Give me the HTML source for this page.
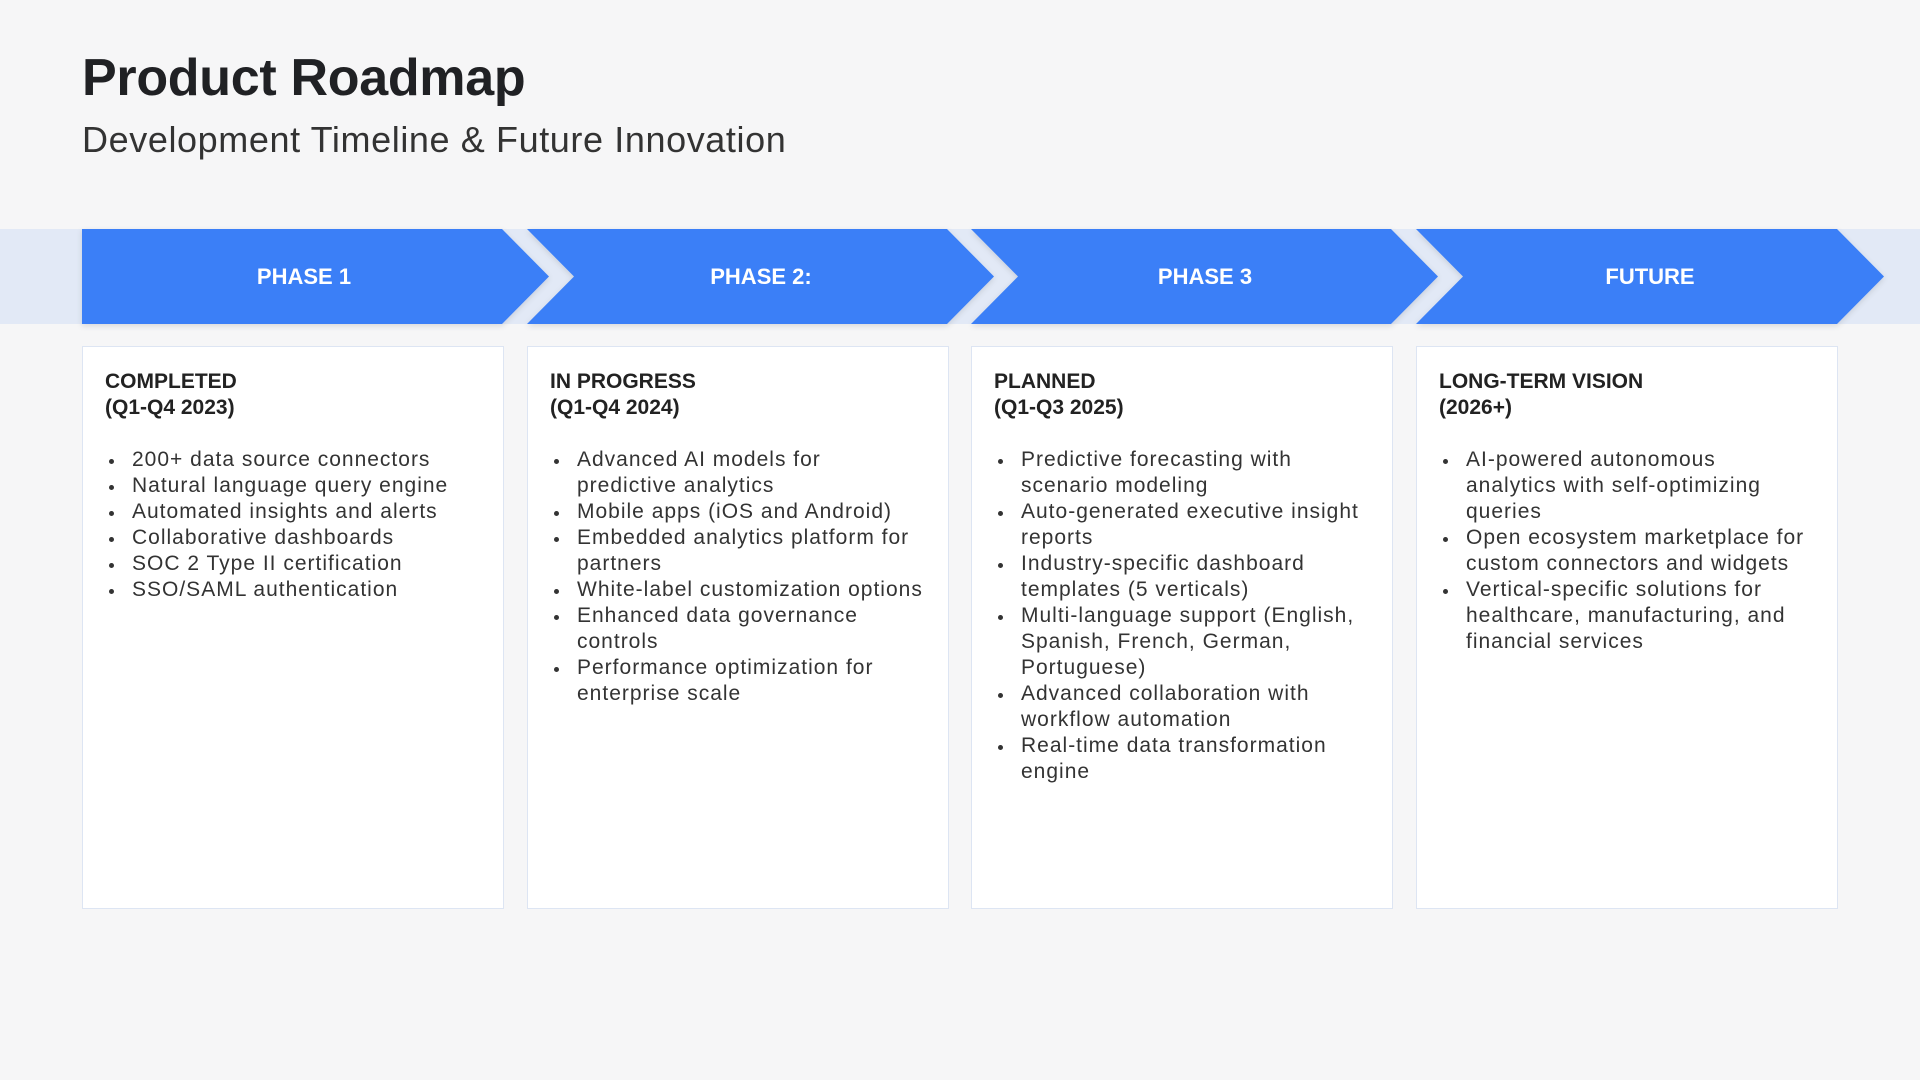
<!DOCTYPE html>
<html><head><meta charset="utf-8"><style>
*{margin:0;padding:0;box-sizing:border-box}
body{width:1920px;height:1080px;background:#f6f6f7;font-family:"Liberation Sans",sans-serif;position:relative;overflow:hidden;color:#222}
.t{position:absolute;left:82px;top:48px;font-size:52px;font-weight:bold;color:#202124;letter-spacing:-0.3px}
.s{position:absolute;left:82px;top:119px;font-size:36px;color:#333;letter-spacing:0.6px}
.card{position:absolute;top:346px;width:422px;height:563px;background:#fff;border:1.5px solid #dde5f3}
.h{position:absolute;left:22px;top:22px;font-size:21px;font-weight:bold;line-height:26px;color:#222;white-space:nowrap}
.list{position:absolute;left:22px;top:100px;font-size:21px;line-height:26px;color:#333;white-space:nowrap;letter-spacing:1px}
.list div{position:relative;padding-left:27px}
.list div.b::before{content:"";position:absolute;left:4px;top:12px;width:5px;height:5px;border-radius:50%;background:#333}
.lbl{position:absolute;top:229px;height:95px;line-height:95px;color:#fff;font-weight:bold;font-size:22px;text-align:center;width:420px}
</style></head><body>
<div class="t">Product Roadmap</div>
<div class="s">Development Timeline &amp; Future Innovation</div>
<svg style="position:absolute;left:0;top:0" width="1920" height="400">
<defs><filter id="sh" x="-5%" y="-20%" width="110%" height="140%"><feDropShadow dx="0" dy="2" stdDeviation="3" flood-color="#000" flood-opacity="0.12"/></filter></defs>
<rect x="0" y="229" width="1920" height="95" fill="#e2e9f6"/>
<g fill="#3b7ff7" filter="url(#sh)">
<polygon points="82,229 502,229 549,276.5 502,324 82,324"/>
<polygon points="527,229 947,229 994,276.5 947,324 527,324 574,276.5"/>
<polygon points="971,229 1391,229 1438,276.5 1391,324 971,324 1018,276.5"/>
<polygon points="1416,229 1837,229 1884,276.5 1837,324 1416,324 1463,276.5"/>
</g>
</svg>
<div class="lbl" style="left:94px">PHASE 1</div>
<div class="lbl" style="left:551px">PHASE 2:</div>
<div class="lbl" style="left:995px">PHASE 3</div>
<div class="lbl" style="left:1440px">FUTURE</div>

<div class="card" style="left:82px">
<div class="h">COMPLETED<br>(Q1-Q4 2023)</div>
<div class="list">
<div class="b">200+ data source connectors</div>
<div class="b">Natural language query engine</div>
<div class="b">Automated insights and alerts</div>
<div class="b">Collaborative dashboards</div>
<div class="b">SOC 2 Type II certification</div>
<div class="b">SSO/SAML authentication</div>
</div></div>

<div class="card" style="left:527px">
<div class="h">IN PROGRESS<br>(Q1-Q4 2024)</div>
<div class="list">
<div class="b">Advanced AI models for</div><div>predictive analytics</div>
<div class="b">Mobile apps (iOS and Android)</div>
<div class="b">Embedded analytics platform for</div><div>partners</div>
<div class="b">White-label customization options</div>
<div class="b">Enhanced data governance</div><div>controls</div>
<div class="b">Performance optimization for</div><div>enterprise scale</div>
</div></div>

<div class="card" style="left:971px">
<div class="h">PLANNED<br>(Q1-Q3 2025)</div>
<div class="list">
<div class="b">Predictive forecasting with</div><div>scenario modeling</div>
<div class="b">Auto-generated executive insight</div><div>reports</div>
<div class="b">Industry-specific dashboard</div><div>templates (5 verticals)</div>
<div class="b">Multi-language support (English,</div><div>Spanish, French, German,</div><div>Portuguese)</div>
<div class="b">Advanced collaboration with</div><div>workflow automation</div>
<div class="b">Real-time data transformation</div><div>engine</div>
</div></div>

<div class="card" style="left:1416px">
<div class="h">LONG-TERM VISION<br>(2026+)</div>
<div class="list">
<div class="b">AI-powered autonomous</div><div>analytics with self-optimizing</div><div>queries</div>
<div class="b">Open ecosystem marketplace for</div><div>custom connectors and widgets</div>
<div class="b">Vertical-specific solutions for</div><div>healthcare, manufacturing, and</div><div>financial services</div>
</div></div>
</body></html>
